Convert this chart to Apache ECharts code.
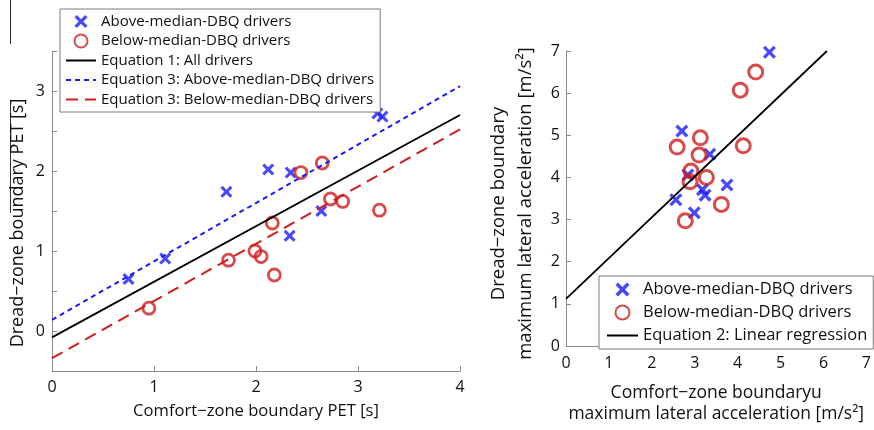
<!DOCTYPE html>
<html><head><meta charset="utf-8">
<script src="https://cdn.jsdelivr.net/npm/echarts@6/dist/echarts.min.js"></script>
<style>html,body{margin:0;padding:0;background:#fff}#c{width:874px;height:430px}</style>
</head><body><div id="c"></div>
<script>
// Left panel (PET)
const aboveLeft = [[0.75,0.65],[1.11,0.905],[1.71,1.74],[2.12,2.02],[2.34,1.98],[2.33,1.19],[2.64,1.50],[3.19,2.72],[3.24,2.68]];
const belowLeft = [[0.95,0.285],[1.73,0.885],[1.99,1.0],[2.05,0.93],[2.18,0.70],[2.16,1.35],[2.44,1.98],[2.65,2.10],[2.73,1.65],[2.85,1.62],[3.21,1.51]];
const eq1All = [[0,-0.08],[4,2.70]];
const eq3Above = [[0,0.14],[4,3.06]];
const eq3Below = [[0,-0.34],[4,2.52]];
// Right panel (lateral acceleration)
const aboveRight = [[4.74,6.97],[2.70,5.10],[3.35,4.55],[2.84,4.06],[3.75,3.82],[3.18,3.71],[3.24,3.58],[2.56,3.47],[2.99,3.16]];
const belowRight = [[4.42,6.50],[4.06,6.07],[4.13,4.75],[2.59,4.72],[3.13,4.94],[3.10,4.53],[2.91,4.15],[2.89,3.90],[3.27,4.00],[3.62,3.36],[2.78,2.97]];
const eq2Right = [[0,1.12],[6.08,7.0]];

const names = {
  above: 'Above-median-DBQ drivers',
  below: 'Below-median-DBQ drivers',
  eq1: 'Equation 1: All drivers',
  eq3a: 'Equation 3: Above-median-DBQ drivers',
  eq3b: 'Equation 3: Below-median-DBQ drivers',
  eq2: 'Equation 2: Linear regression'
};

const BLUE = '#1a1aff', RED = '#cf1d1d';
const FONT = 'Open Sans';
const XPATH = 'path://M0,1.8L1.8,0L5,3.2L8.2,0L10,1.8L6.8,5L10,8.2L8.2,10L5,6.8L1.8,10L0,8.2L3.2,5Z';
const AX = '#8a8a8a';
const NOSYM = {color: 'rgba(0,0,0,0)', borderWidth: 0, borderColor: 'rgba(0,0,0,0)'};

function axisCommon(min, max, interval) {
  return {
    type: 'value', min, max, interval,
    axisLine: {show: true, onZero: false, lineStyle: {color: AX, width: 1}},
    axisTick: {show: true, inside: true, length: 5, lineStyle: {color: AX}},
    axisLabel: {color: '#111', fontSize: 16, fontFamily: FONT},
    splitLine: {show: false}
  };
}

const chart = echarts.init(document.getElementById('c'), null, {renderer: 'canvas'});
chart.setOption({
  animation: false,
  backgroundColor: '#fff',
  textStyle: {fontFamily: FONT},
  grid: [
    {left: 52, top: 51, width: 408, height: 320},
    {left: 566, top: 51, width: 306, height: 299}
  ],
  xAxis: [
    Object.assign(axisCommon(0, 4, 1), {gridIndex: 0, name: 'Comfort\u2212zone boundary PET [s]', nameLocation: 'middle', nameGap: 32,
      nameTextStyle: {color: '#111', fontFamily: FONT, fontSize: 16.6}, axisLabel: {color: '#111', fontSize: 16, fontFamily: FONT, margin: 8}}),
    Object.assign(axisCommon(0, 7, 1), {gridIndex: 1, name: 'Comfort\u2212zone boundaryu\nmaximum lateral acceleration [m/s\u00b2]', nameLocation: 'middle', nameGap: 37,
      nameTextStyle: {color: '#111', fontFamily: FONT, fontSize: 17.5, lineHeight: 21}, axisLabel: {color: '#111', fontSize: 16, fontFamily: FONT, margin: 9}})
  ],
  yAxis: [
    Object.assign(axisCommon(-0.5, 3.5, 0.5), {gridIndex: 0, name: 'Dread\u2212zone boundary PET [s]', nameLocation: 'middle', nameGap: 25,
      nameTextStyle: {color: '#111', fontFamily: FONT, fontSize: 18, padding: [0, 24, 0, 0]},
      axisLabel: {color: '#111', fontSize: 16, fontFamily: FONT, margin: 7, formatter: v => (Math.abs(v - Math.round(v)) < 1e-9 ? String(Math.round(v)) : '')},
      axisTick: {show: true, inside: true, length: 5, lineStyle: {color: AX}, interval: (i, v) => Math.abs(v - Math.round(v)) < 1e-9}}),
    Object.assign(axisCommon(0, 7, 1), {gridIndex: 1, name: 'Dread\u2212zone boundary\nmaximum lateral acceleration [m/s\u00b2]', nameLocation: 'middle', nameGap: 27,
      nameTextStyle: {color: '#111', fontFamily: FONT, fontSize: 18.5, lineHeight: 27, padding: [0, 10, 0, 0]}, axisLabel: {color: '#111', fontSize: 16, fontFamily: FONT, margin: 6}})
  ],
  legend: [
    {
      left: 60, top: 9, orient: 'vertical', padding: [5, 6, 5, 5], itemGap: 4.5, itemWidth: 30, itemHeight: 13,
      backgroundColor: '#fff', borderColor: '#7a7a7a', borderWidth: 1, borderRadius: 0,
      textStyle: {fontSize: 15, fontFamily: FONT, color: '#111'},
      data: [names.above, names.below, names.eq1, names.eq3a, names.eq3b],
      selectedMode: false
    },
    {
      left: 599, top: 276, orient: 'vertical', padding: [5, 6, 5, 7], itemGap: 6, itemWidth: 31, itemHeight: 14,
      backgroundColor: '#fff', borderColor: '#7a7a7a', borderWidth: 1, borderRadius: 0,
      textStyle: {fontSize: 16.5, fontFamily: FONT, color: '#111'},
      data: [names.above, names.below, names.eq2],
      selectedMode: false
    }
  ],
  graphic: [
    {type: 'line', shape: {x1: 10.5, y1: 0, x2: 10.5, y2: 44}, style: {stroke: '#333', lineWidth: 1}},
    {type: 'line', shape: {x1: 10.5, y1: 100, x2: 10.5, y2: 213}, style: {stroke: '#333', lineWidth: 1}}
  ],
  series: [
    {name: names.above, type: 'scatter', xAxisIndex: 0, yAxisIndex: 0, data: aboveLeft, symbol: XPATH, symbolSize: 12, symbolKeepAspect: true,
      itemStyle: {color: BLUE}},
    {name: names.below, type: 'scatter', xAxisIndex: 0, yAxisIndex: 0, data: belowLeft, symbol: 'circle', symbolSize: 12,
      itemStyle: {color: 'rgba(255,255,255,0)', borderColor: RED, borderWidth: 2.8}},
    {name: names.eq1, type: 'line', xAxisIndex: 0, yAxisIndex: 0, data: eq1All, symbol: 'none', itemStyle: NOSYM, lineStyle: {color: '#000', width: 1.8}},
    {name: names.eq3a, type: 'line', xAxisIndex: 0, yAxisIndex: 0, data: eq3Above, symbol: 'none', itemStyle: NOSYM, lineStyle: {color: BLUE, width: 2, type: [5, 4]}},
    {name: names.eq3b, type: 'line', xAxisIndex: 0, yAxisIndex: 0, data: eq3Below, symbol: 'none', itemStyle: NOSYM, lineStyle: {color: RED, width: 2, type: [12, 7]}},
    {name: names.above, type: 'scatter', xAxisIndex: 1, yAxisIndex: 1, data: aboveRight, symbol: XPATH, symbolSize: 13, symbolKeepAspect: true,
      itemStyle: {color: BLUE}},
    {name: names.below, type: 'scatter', xAxisIndex: 1, yAxisIndex: 1, data: belowRight, symbol: 'circle', symbolSize: 14,
      itemStyle: {color: 'rgba(255,255,255,0)', borderColor: RED, borderWidth: 3}},
    {name: names.eq2, type: 'line', xAxisIndex: 1, yAxisIndex: 1, data: eq2Right, symbol: 'none', itemStyle: NOSYM, lineStyle: {color: '#000', width: 1.8}}
  ]
});
</script></body></html>
